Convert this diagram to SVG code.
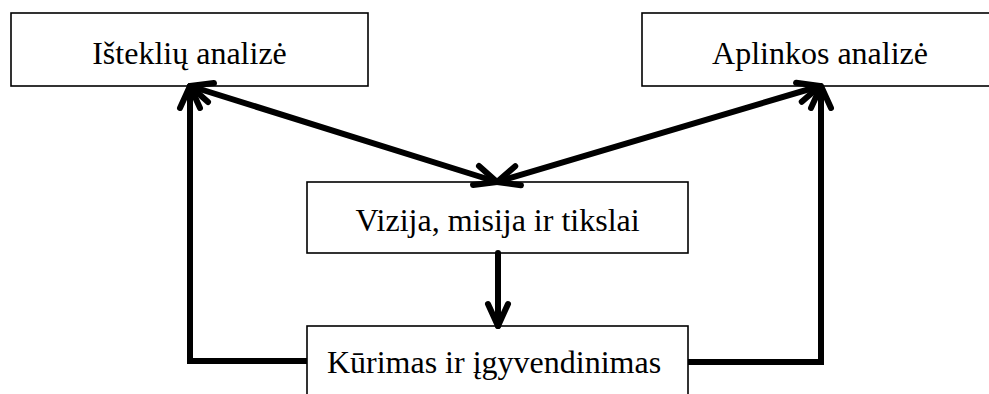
<svg xmlns="http://www.w3.org/2000/svg" width="989" height="394" viewBox="0 0 989 394">
  <style>
    .box { fill: #ffffff; stroke: #000000; stroke-width: 1.6; }
    .label { font-family: "Liberation Serif", "Times New Roman", serif; font-size: 32px; fill: #000000; text-anchor: middle; }
    .conn { fill: none; stroke: #000000; stroke-width: 6; stroke-linecap: round; stroke-linejoin: miter; }
    .elbow { stroke-linecap: butt; }
  </style>
  <defs>
    <!-- open V arrowhead, reversed automatically at path starts -->
    <marker id="head" markerUnits="userSpaceOnUse" markerWidth="40" markerHeight="40" viewBox="-30 -20 40 40" refX="0" refY="0" orient="auto-start-reverse" overflow="visible">
      <path d="M -22 -10 L 0 0 L -22 10" fill="none" stroke="#000000" stroke-width="6" stroke-linecap="round" stroke-linejoin="round"/>
    </marker>
  </defs>
  <rect width="989" height="394" fill="#ffffff"/>

  <g id="node-istekliu">
    <rect class="box" x="11" y="13" width="357" height="73"/>
    <text class="label" x="189.5" y="64">Išteklių analizė</text>
  </g>
  <g id="node-aplinkos">
    <rect class="box" x="642" y="13" width="357" height="73"/>
    <text class="label" x="820" y="64">Aplinkos analizė</text>
  </g>
  <g id="node-vizija">
    <rect class="box" x="307" y="182" width="381" height="71"/>
    <text class="label" x="497.5" y="231">Vizija, misija ir tikslai</text>
  </g>
  <g id="node-kurimas">
    <rect class="box" x="307" y="326" width="381" height="100"/>
    <text class="label" x="494" y="373">Kūrimas ir įgyvendinimas</text>
  </g>

  <g id="connectors">
    <path class="conn" d="M 190 86 L 497 182" marker-start="url(#head)" marker-end="url(#head)"/>
    <path class="conn" d="M 820 86 L 497 182" marker-start="url(#head)" marker-end="url(#head)"/>
    <path class="conn" d="M 498 253 L 498 326" marker-end="url(#head)"/>
    <path class="conn elbow" d="M 307 361 L 190 361 L 190 86" marker-end="url(#head)"/>
    <path class="conn elbow" d="M 688 362 L 821 362 L 821 86" marker-end="url(#head)"/>
  </g>
</svg>
